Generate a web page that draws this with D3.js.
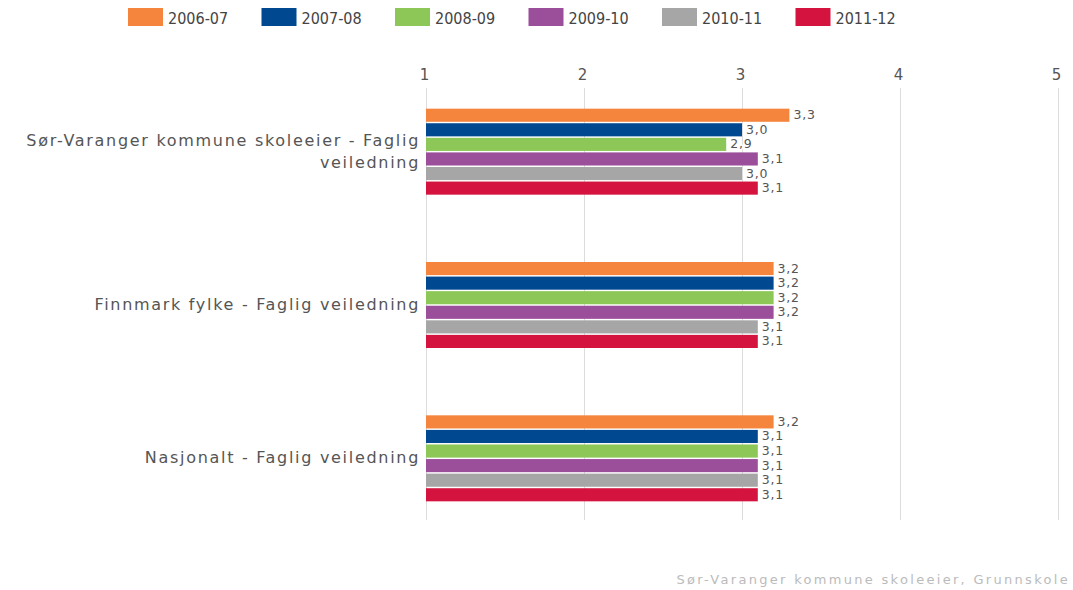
<!DOCTYPE html>
<html>
<head>
<meta charset="utf-8">
<script src="https://cdn.jsdelivr.net/npm/d3@7"></script>
<style>
  body { margin: 0; background: #fff; }
  svg { display: block; font-family: "DejaVu Sans", Verdana, sans-serif; }
</style>
</head>
<body>
<div id="chart"></div>
<script>
const categories = [
    ["Sør-Varanger kommune skoleeier - Faglig", "veiledning"],
    ["Finnmark fylke - Faglig veiledning"],
    ["Nasjonalt - Faglig veiledning"]
];
const seriesNames = ["2006-07", "2007-08", "2008-09", "2009-10", "2010-11", "2011-12"];
const seriesColors = ["#f5843c", "#00488f", "#8cc757", "#9b4f9b", "#a6a6a6", "#d4143f"];
const values2006 = [3.3, 3.2, 3.2];
const values2007 = [3.0, 3.2, 3.1];
const values2008 = [2.9, 3.2, 3.1];
const values2009 = [3.1, 3.2, 3.1];
const values2010 = [3.0, 3.1, 3.1];
const values2011 = [3.1, 3.1, 3.1];
const tickValues = [1, 2, 3, 4, 5];
const footer = "Sør-Varanger kommune skoleeier, Grunnskole";

const seriesValues = [values2006, values2007, values2008, values2009, values2010, values2011];

const width = 1073;
const height = 590;

const svg = d3.select("#chart")
    .append("svg")
    .attr("width", width)
    .attr("height", height);

const margin = { top: 75, right: 15, bottom: 55, left: 426 };
const innerWidth = 1058 - margin.left;
const innerHeight = height - margin.top - margin.bottom;

const xScale = d3.scaleLinear()
    .domain([1, 5])
    .range([0, innerWidth]);

const yScale = d3.scaleBand()
    .domain(d3.range(categories.length))
    .range([0, innerHeight]);

const innerScale = d3.scaleBand()
    .domain(d3.range(seriesNames.length))
    .range([0, 86])
    .paddingInner(0.1);

const g = svg.append("g")
    .attr("transform", `translate(${margin.left}, ${margin.top})`);

// gridlines + top tick labels
const xAxis = d3.axisTop(xScale)
    .tickValues(tickValues)
    .tickSize(-(innerHeight - 28))
    .tickPadding(8)
    .tickFormat(d3.format("d"));

const xAxisG = g.append("g")
    .attr("transform", "translate(0, 13)")
    .call(xAxis);
xAxisG.select(".domain").remove();
xAxisG.selectAll("line")
    .style("stroke", "#dcdcdc");
xAxisG.selectAll("text")
    .style("font-size", "15px")
    .style("fill", "#555")
    .attr("dx", -2)
    .attr("font-family", "DejaVu Sans, sans-serif");

// category labels
const catG = g.selectAll(".cat").data(categories)
    .enter().append("text")
    .attr("class", "cat")
    .attr("text-anchor", "end")
    .attr("x", -6)
    .attr("y", (d, i) => yScale(i) + yScale.bandwidth() / 2)
    .style("font-size", "16px")
    .style("letter-spacing", "1.7px")
    .style("fill", "#555");

catG.each(function (d) {
    const t = d3.select(this);
    const lineH = 22;
    const offset = -(d.length - 1) * lineH / 2 + 5;
    d.forEach((line, k) => {
        t.append("tspan")
            .attr("x", -6)
            .attr("y", +t.attr("y") + offset + k * lineH)
            .text(line);
    });
});

// bars
const groups = g.selectAll(".grp").data(categories)
    .enter().append("g")
    .attr("class", "grp")
    .attr("transform", (d, i) => `translate(0, ${yScale(i) + yScale.bandwidth() / 2 - 43})`);

groups.selectAll("rect")
    .data((d, i) => seriesValues.map((vals, s) => ({ s, v: vals[i] })))
    .enter().append("rect")
    .attr("x", 0)
    .attr("y", d => innerScale(d.s))
    .attr("width", d => xScale(d.v))
    .attr("height", innerScale.bandwidth())
    .attr("fill", d => seriesColors[d.s]);

const fmt = v => d3.format(".1f")(v).replace(".", ",");

groups.selectAll("text.lbl")
    .data((d, i) => seriesValues.map((vals, s) => ({ s, v: vals[i] })))
    .enter().append("text")
    .attr("class", "lbl")
    .attr("x", d => xScale(d.v) + 4)
    .attr("y", d => innerScale(d.s) + innerScale.bandwidth() / 2 + 4)
    .style("font-size", "12.5px")
    .style("letter-spacing", "0.8px")
    .style("fill", "#555")
    .style("paint-order", "stroke")
    .style("stroke", "#fff")
    .style("stroke-width", 3)
    .text(d => fmt(d.v));

// legend
const legend = svg.append("g")
    .attr("transform", "translate(128, 8)");

const items = legend.selectAll("g").data(seriesNames)
    .enter().append("g")
    .attr("transform", (d, i) => `translate(${i * 133.5}, 0)`);

items.append("rect")
    .attr("width", 35)
    .attr("height", 18)
    .attr("fill", (d, i) => seriesColors[i]);

items.append("text")
    .attr("x", 40)
    .attr("y", 16)
    .style("font-family", "'DejaVu Sans Condensed', 'DejaVu Sans', sans-serif")
    .style("font-size", "16px")
    .style("fill", "#444")
    .text(d => d);

svg.append("text")
    .attr("x", 1070)
    .attr("y", 584)
    .attr("text-anchor", "end")
    .style("font-size", "13px")
    .style("letter-spacing", "2.3px")
    .style("fill", "#bbb")
    .text(footer);
</script>
</body>
</html>
